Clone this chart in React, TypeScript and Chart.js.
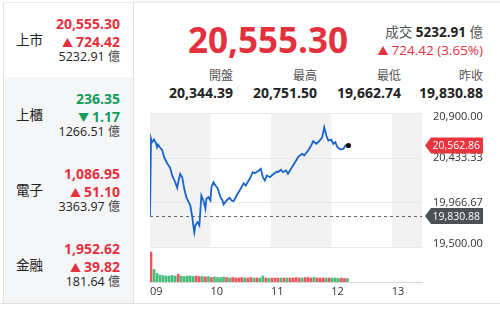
import React, { useEffect, useRef } from 'react';
import { Chart, registerables } from 'chart.js';
Chart.register(...registerables);

// ---- data ----
const lastIndex = '20,555.30';
const changeText = '724.42 (3.65%)';
const turnover = '5232.91';
const statLabels = ['開盤', '最高', '最低', '昨收'];
const statValues = ['20,344.39', '20,751.50', '19,662.74', '19,830.88'];

const sideNames = ['上市', '上櫃', '電子', '金融'];
const sideValues = ['20,555.30', '236.35', '1,086.95', '1,952.62'];
const sideChanges = ['724.42', '1.17', '51.10', '39.82'];
const sideUp = [true, false, true, true];
const sideTurnover = ['5232.91', '1266.51', '3363.97', '181.64'];

// minutes after 09:00
const times = [
  0, 1, 2, 4, 6, 7, 8, 10, 12, 14,
  17, 20, 22, 25, 27, 28, 30, 32, 34, 36,
  40, 42, 43, 44, 45, 47, 49, 50, 51, 53,
  55, 56, 58, 60, 61, 63, 65, 67, 70, 72,
  73, 76, 79, 81, 83, 86, 89, 93, 95, 99,
  102, 104, 108, 110, 112, 114, 116, 119, 122, 126,
  127, 130, 132, 135, 137, 140, 144, 147, 151, 153,
  157, 160, 162, 165, 168, 171, 173, 175, 177, 180,
  182, 184, 186, 189, 192, 194, 197,
];
const prices = [
  19830.88, 20635, 20597, 20625, 20584, 20545, 20573, 20539, 20518, 20442,
  20379, 20332, 20252, 20182, 20124, 20182, 20269, 20234, 20114, 20027,
  19941, 19819, 19733, 19662.74, 19733, 19768, 19733, 19889, 20044, 19993,
  19907, 20010, 20027, 19993, 20131, 20182, 20148, 20124, 20027, 19993,
  19951, 19993, 20021, 19993, 19985, 20044, 20096, 20172, 20148, 20218,
  20286, 20276, 20304, 20321, 20234, 20200, 20252, 20234, 20262, 20293,
  20286, 20311, 20286, 20304, 20269, 20321, 20390, 20442, 20477, 20459,
  20511, 20563, 20608, 20581, 20608, 20649, 20751.5, 20667, 20615, 20622,
  20581, 20597, 20545, 20521, 20529, 20563, 20562.86,
];
// volume (億) per 3-minute bin
const volumes = [
  430, 180, 125, 100, 93, 86, 86, 93, 86, 110,
  86, 79, 86, 86, 79, 86, 79, 79, 72, 79,
  64, 72, 64, 64, 72, 64, 57, 64, 57, 57,
  64, 57, 57, 64, 57, 57, 57, 86, 57, 50,
  57, 57, 57, 57, 57, 57, 57, 57, 64, 57,
  57, 64, 64, 57, 64, 57, 57, 57, 57, 57,
  57, 57, 50, 57, 50, 50,
];
const prevClose = 19830.88;
const lastPrice = 20562.86;
const yTicks = [19500, 19966.67, 20433.33, 20900];
const xTicks = [0, 60, 120, 180, 240];
const xTickLabels = ['09', '10', '11', '12', '13'];
const shadedHours = [[0, 60], [120, 180], [240, 270]];

// ---- styles ----
const RED = '#e3323d';
const GREEN = '#169c5a';
const FONT = '"Open Sans", "Noto Sans CJK TC", sans-serif';

function priceAt(t: number) {
  if (t <= times[0]) return prices[0];
  for (let i = 1; i < times.length; i++) {
    if (t <= times[i]) {
      const f = (t - times[i - 1]) / (times[i] - times[i - 1]);
      return prices[i - 1] + f * (prices[i] - prices[i - 1]);
    }
  }
  return prices[prices.length - 1];
}

function Txt(props: { left?: number; right?: number; cy: number; size: number; weight?: number; color?: string; children: any }) {
  const { left, right, cy, size, weight, color, children } = props;
  const h = size * 1.5;
  const st: any = {
    position: 'absolute', top: cy - h / 2, height: h, lineHeight: h + 'px', fontSize: size,
    fontWeight: weight || 400, color: color || '#222', whiteSpace: 'nowrap', fontFamily: FONT,
  };
  if (left !== undefined) st.left = left;
  if (right !== undefined) st.right = 500 - right;
  return <div style={st}>{children}</div>;
}

export default function App() {
  const ref = useRef<HTMLCanvasElement>(null);
  useEffect(() => {
    const canvas = ref.current!;
    const volTimes = volumes.map((_, i) => 3 * i + 1);
    const volColors = volumes.map((_, i) => {
      const a = priceAt(3 * i), b = priceAt(3 * i + 3);
      return b >= a ? 'rgba(232,66,76,0.9)' : 'rgba(38,176,100,0.85)';
    });
    const fmt = (v: number) => v.toLocaleString('en-US', { minimumFractionDigits: 2, maximumFractionDigits: 2 });

    const decor = {
      id: 'decor',
      beforeDraw(chart: any) {
        const { ctx, scales } = chart;
        const x = scales.x, y = scales.y;
        const top = y.getPixelForValue(yTicks[yTicks.length - 1]);
        const bottom = y.getPixelForValue(yTicks[0]);
        ctx.save();
        ctx.fillStyle = '#f2f2f2';
        for (const [a, b] of shadedHours) {
          const xa = x.getPixelForValue(a), xb = x.getPixelForValue(b);
          ctx.fillRect(xa, top, xb - xa, bottom - top);
        }
        ctx.restore();
      },
      beforeDatasetsDraw(chart: any) {
        const { ctx, scales, chartArea } = chart;
        const yp = Math.round(scales.y.getPixelForValue(prevClose)) + 0.5;
        ctx.save();
        ctx.strokeStyle = '#666';
        ctx.lineWidth = 1;
        ctx.setLineDash([3, 3]);
        ctx.beginPath();
        ctx.moveTo(chartArea.left, yp);
        ctx.lineTo(chartArea.right, yp);
        ctx.stroke();
        ctx.restore();
      },
      afterDraw(chart: any) {
        const { ctx, scales, chartArea } = chart;
        const x = scales.x, y = scales.y;
        ctx.save();
        // y-axis labels, kept inside the price pane at its edges
        const top = y.getPixelForValue(yTicks[yTicks.length - 1]);
        const bottom = y.getPixelForValue(yTicks[0]);
        ctx.fillStyle = '#333';
        ctx.font = '11px ' + FONT;
        ctx.textAlign = 'left';
        ctx.textBaseline = 'middle';
        for (const v of yTicks) {
          const p = Math.min(Math.max(y.getPixelForValue(v), top + 4), bottom - 4);
          ctx.fillText(fmt(v), chartArea.right + 11, p);
        }
        // last point dot
        ctx.fillStyle = '#111';
        ctx.beginPath();
        ctx.arc(x.getPixelForValue(times[times.length - 1]), y.getPixelForValue(lastPrice), 2.6, 0, Math.PI * 2);
        ctx.fill();
        const tag = (val: number, color: string) => {
          const yc = y.getPixelForValue(val);
          const x0 = chartArea.right + 3;
          const h = 16, w = 52, a = 6;
          ctx.fillStyle = color;
          ctx.beginPath();
          ctx.moveTo(x0, yc);
          ctx.lineTo(x0 + a, yc - h / 2);
          ctx.lineTo(x0 + a + w, yc - h / 2);
          ctx.lineTo(x0 + a + w, yc + h / 2);
          ctx.lineTo(x0 + a, yc + h / 2);
          ctx.closePath();
          ctx.fill();
          ctx.fillStyle = '#fff';
          ctx.font = '10.5px ' + FONT;
          ctx.textAlign = 'left';
          ctx.textBaseline = 'middle';
          ctx.fillText(fmt(val), x0 + a + 1.5, yc + 0.5);
        };
        tag(lastPrice, '#e8353f');
        tag(prevClose, '#4b5157');
        ctx.restore();
      },
    };

    const volMax = 2420;
    const chart = new Chart(canvas, {
      type: 'line',
      data: {
        datasets: [
          {
            type: 'line',
            data: times.map((t, i) => ({ x: t, y: prices[i] })),
            borderColor: '#1763cf',
            borderWidth: 1.8,
            pointRadius: 0,
            tension: 0,
            yAxisID: 'y',
            order: 1,
          } as any,
          {
            type: 'bar',
            data: volTimes.map((t, i) => ({ x: t, y: volumes[i] })),
            backgroundColor: volColors,
            barThickness: 2,
            yAxisID: 'yv',
            order: 2,
          } as any,
        ],
      },
      plugins: [decor],
      options: {
        animation: false,
        responsive: false,
        maintainAspectRatio: false,
        layout: { padding: { left: 10, top: 13, right: 0, bottom: 0 } },
        plugins: { legend: { display: false }, tooltip: { enabled: false } },
        scales: {
          x: {
            type: 'linear', min: 0, max: 270, offset: false,
            grid: { display: false, drawTicks: false },
            border: { display: true, color: '#d6d6d6' },
            afterBuildTicks: (s: any) => { s.ticks = xTicks.map((v) => ({ value: v })); },
            afterFit: (s: any) => { s.height = 23; },
            ticks: {
              padding: 3, color: '#333', font: { size: 11, family: FONT }, align: 'start',
              maxRotation: 0, autoSkip: false,
              callback: (v: any) => xTickLabels[xTicks.indexOf(Number(v))] ?? '',
            },
          },
          y: {
            position: 'right', min: 19147.4, max: 20900,
            grid: { color: '#e8e8e8', drawTicks: false },
            border: { display: false },
            afterBuildTicks: (s: any) => { s.ticks = yTicks.map((v) => ({ value: v })); },
            afterFit: (s: any) => { s.width = 78; },
            ticks: { display: false },
          },
          yv: { display: false, min: 0, max: volMax },
        },
      } as any,
    });
    return () => chart.destroy();
  }, []);

  const rowTops = [2, 77, 152, 227];
  const rowH = [75, 75, 75, 76];

  return (
    <div style={{ position: 'absolute', left: 0, top: 0, width: 500, height: 311, background: '#fff', overflow: 'hidden', fontFamily: FONT }}>
      {/* top line */}
      <div style={{ position: 'absolute', left: 133, top: 1, width: 367, height: 2, background: '#ededed' }} />
      {/* left panel */}
      {sideNames.map((n, i) => (
        <div key={n}>
          <div style={{
            position: 'absolute', left: 3, top: rowTops[i], width: 129, height: rowH[i],
            background: i === 0 ? '#fff' : '#f5f6f8', borderLeft: '1px solid #e3e3e3', borderRight: '1px solid #e3e3e3',
            borderBottom: '1px solid #e3e3e3', borderTop: i === 0 ? '1px solid #ededed' : 'none',
          }} />
          <Txt left={16} cy={rowTops[i] + 38.5} size={13.5} color="#222">{n}</Txt>
          <Txt right={120} cy={rowTops[i] + 21.5} size={14} weight={700} color={sideUp[i] ? RED : GREEN}>{sideValues[i]}</Txt>
          <Txt right={120} cy={rowTops[i] + 39} size={14} weight={700} color={sideUp[i] ? RED : GREEN}>
            <span style={{ fontSize: 11, marginRight: 3 }}>{sideUp[i] ? '▲' : '▼'}</span>{sideChanges[i]}
          </Txt>
          <Txt right={120} cy={rowTops[i] + 55.5} size={12.5} color="#222">
            {sideTurnover[i]} <span style={{ fontSize: 12, color: '#444' }}>億</span>
          </Txt>
        </div>
      ))}
      {/* header */}
      <Txt left={188} cy={40.5} size={35} weight={700} color={RED}>{lastIndex}</Txt>
      <Txt right={483} cy={32} size={13.5} color="#555">
        成交 <span style={{ color: '#222', fontWeight: 700 }}>{turnover}</span> 億
      </Txt>
      <Txt right={483} cy={50} size={13.5} color={RED}>
        <span style={{ fontSize: 11, marginRight: 3 }}>▲</span>{changeText}
      </Txt>
      {statLabels.map((l, i) => (
        <Txt key={l} right={[233, 317, 401, 483][i]} cy={76} size={12} color="#555">{l}</Txt>
      ))}
      {statValues.map((v, i) => (
        <Txt key={v} right={[233, 317, 401, 483][i]} cy={92} size={14} weight={700} color="#222">{v}</Txt>
      ))}
      <canvas ref={ref} width={360} height={205} style={{ position: 'absolute', left: 140, top: 100, width: 360, height: 205 }} />
      {/* bottom line */}
      <div style={{ position: 'absolute', left: 0, top: 303, width: 500, height: 1, background: '#e0e0e0' }} />
    </div>
  );
}
